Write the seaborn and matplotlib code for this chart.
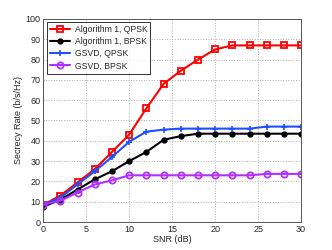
import matplotlib
matplotlib.use("Agg")
import matplotlib.pyplot as plt
import seaborn as sns
import pandas as pd

snr = [0, 2, 4, 6, 8, 10, 12, 14, 16, 18, 20, 22, 24, 26, 28, 30]
alg1_qpsk = [8.5, 13, 19.5, 26, 34.5, 43, 56, 68, 74.5, 80, 85, 87, 87, 87, 87, 87]
alg1_bpsk = [7.5, 11, 16, 21, 25, 30, 34.5, 40.5, 42.3, 43.5, 43.5, 43.5, 43.5, 43.5, 43.5, 43.5]
gsvd_qpsk = [8.5, 12, 18.5, 25, 32, 39.5, 44.5, 45.5, 46, 46, 46, 46, 46, 47, 47, 47]
gsvd_bpsk = [8.5, 10.5, 14.5, 18.5, 20.5, 23, 23, 23, 23, 23, 23, 23, 23, 23.7, 23.7, 23.7]
labels = ["Algorithm 1, QPSK", "Algorithm 1, BPSK", "GSVD, QPSK", "GSVD, BPSK"]
series = [alg1_qpsk, alg1_bpsk, gsvd_qpsk, gsvd_bpsk]

sns.set_style("white")
plt.rcParams['font.family'] = ['Liberation Sans', 'DejaVu Sans']

fig = plt.figure(figsize=(3.32, 2.5), dpi=100)
ax = fig.add_axes([0.13, 0.112, 0.777, 0.812])

styles = [
    dict(color="#ff0000", marker="s", markersize=4.5, markerfacecolor="none", markeredgewidth=1.3),
    dict(color="#000000", marker="o", markersize=3.5, markerfacecolor="#000000", markeredgewidth=1),
    dict(color="#1f4fff", marker="+", markersize=4.5, markeredgewidth=1.2),
    dict(color="#b030ff", marker="o", markersize=4.5, markerfacecolor="none", markeredgewidth=1.3),
]
for lab, vals, st in zip(labels, series, styles):
    df = pd.DataFrame({"SNR": snr, "rate": vals})
    sns.lineplot(data=df, x="SNR", y="rate", ax=ax, label=lab, linewidth=1.5,
                 markeredgecolor=st["color"], **st)

ax.set_xlim(0, 30)
ax.set_ylim(0, 100)
ax.set_xticks(range(0, 31, 5))
ax.set_yticks(range(0, 101, 10))
ax.grid(True, linestyle=":", color="#b0b0b0", linewidth=0.7)
ax.tick_params(direction="in", labelsize=6.5, length=2.5, width=0.5, pad=2)
for s in ax.spines.values():
    s.set_color("#555555")
    s.set_linewidth(0.7)
ax.set_xlabel("SNR (dB)", fontsize=6.5, labelpad=1)
ax.set_ylabel("Secrecy Rate (b/s/Hz)", fontsize=6.5, labelpad=2)
leg = ax.legend(loc="upper left", fontsize=6.2, frameon=True, fancybox=False,
                edgecolor="black", borderpad=0.35, labelspacing=0.35, handlelength=2.4,
                handletextpad=0.5, borderaxespad=0.4)
leg.get_frame().set_linewidth(0.7)
fig.savefig("out.png", dpi=100, facecolor="white")
